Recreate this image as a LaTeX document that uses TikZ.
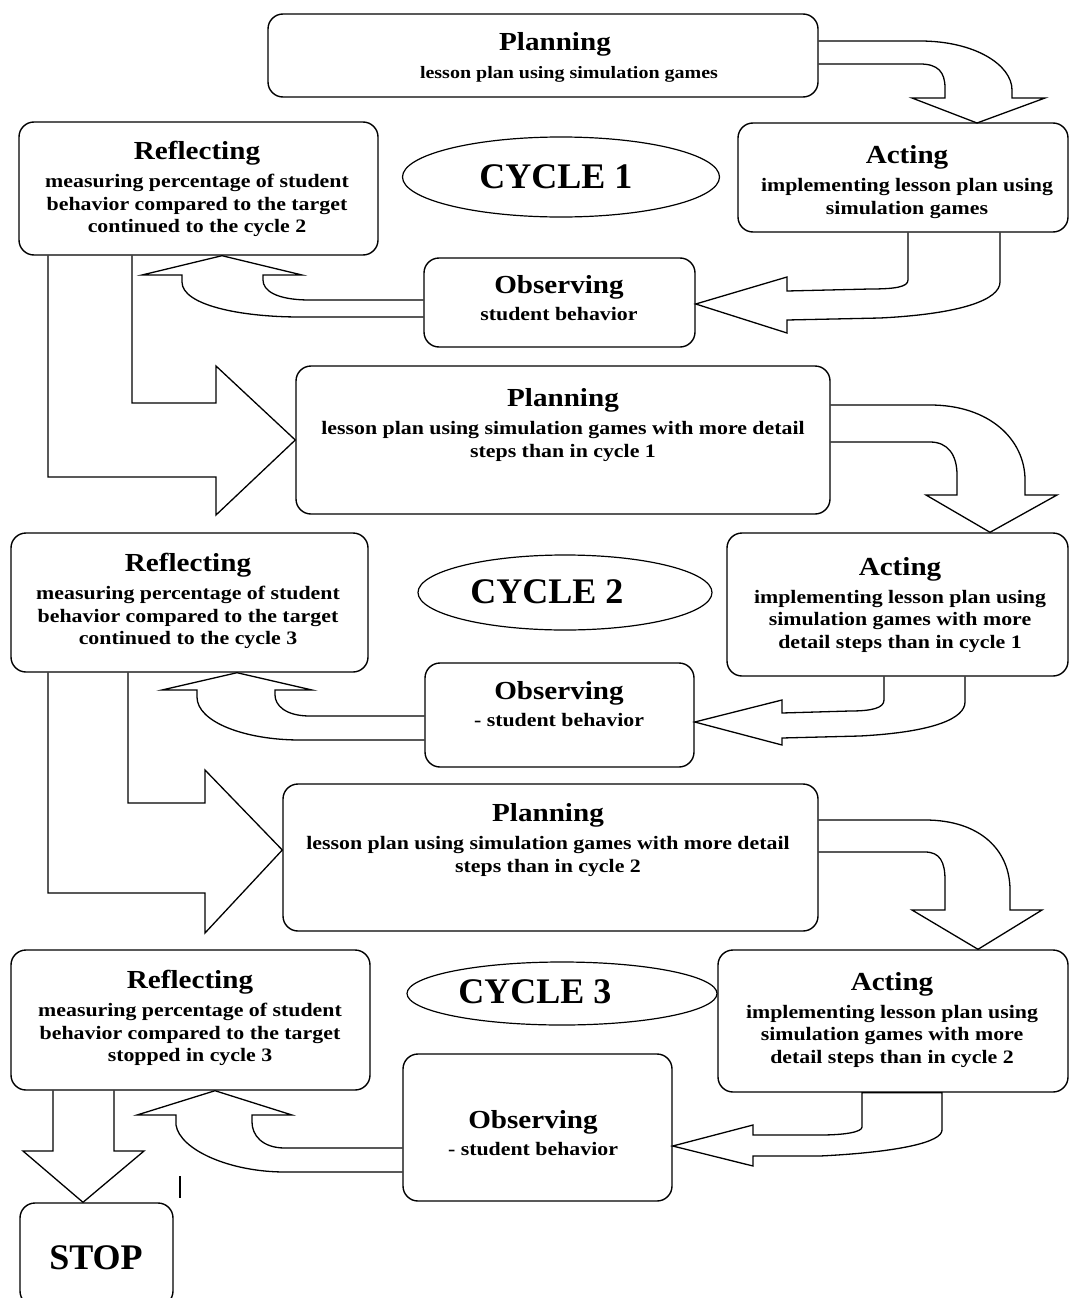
\documentclass[tikz,border=0pt]{standalone}
\usepackage{fontspec}
\setmainfont{Liberation Serif}
\newfontfamily\boxfont[FakeStretch=1.15]{Liberation Serif}
\newfontfamily\titlefont[FakeStretch=1.12]{Liberation Serif}
\usetikzlibrary{shapes.geometric}
\newcommand\ttl[1]{{\titlefont\bfseries\fontsize{26}{22.5}\selectfont #1}\\[5.3pt]}
\begin{document}
\begin{tikzpicture}[x=1pt,y=-1pt,
  box/.style={draw, rounded corners=15pt, line width=1.4pt, inner sep=0pt},
  oval/.style={draw, ellipse, line width=1.2pt, inner sep=0pt},
  txt/.style={align=center, font=\boxfont\bfseries\fontsize{19}{22.5}\selectfont, inner sep=0pt},
  big/.style={font=\bfseries\fontsize{36}{40}\selectfont, inner sep=0pt},
  blk/.style={draw, line width=1.3pt, line join=miter}]
\fill[white] (0,0) rectangle (1069,1298);
\useasboundingbox (0,0) rectangle (1069,1298);

% boxes
\node[box, minimum width=550, minimum height=83] (P1) at (543,55.5) {};
\node[box, minimum width=359, minimum height=133] (R1) at (198.5,188.5) {};
\node[box, minimum width=330, minimum height=109] (A1) at (903,177.5) {};
\node[box, minimum width=271, minimum height=89] (O1) at (559.5,302.5) {};
\node[box, minimum width=534, minimum height=148] (P2) at (563,440) {};
\node[box, minimum width=357, minimum height=139] (R2) at (189.5,602.5) {};
\node[box, minimum width=341, minimum height=143] (A2) at (897.5,604.5) {};
\node[box, minimum width=269, minimum height=104] (O2) at (559.5,715) {};
\node[box, minimum width=535, minimum height=147] (P3) at (550.5,857.5) {};
\node[box, minimum width=359, minimum height=140] (R3) at (190.5,1020) {};
\node[box, minimum width=350, minimum height=142] (A3) at (893,1021) {};
\node[box, minimum width=269, minimum height=147] (O3) at (537.5,1127.5) {};
\node[box, minimum width=153, minimum height=103] (S) at (96.5,1254.5) {};

% ellipses
\node[oval, minimum width=317, minimum height=80] (C1) at (561,177) {};
\node[oval, minimum width=294, minimum height=75] (C2) at (565,592.5) {};
\node[oval, minimum width=310, minimum height=63] (C3) at (562,993.5) {};
\node[big] (C1t) at (556,177) {CYCLE 1};
\node[big] (C2t) at (547,592) {CYCLE 2};
\node[big] (C3t) at (535,992) {CYCLE 3};
\node[big] (St) at (96,1258) {STOP};

% texts
\node[txt] (P1t) at (562,57.5) {\ttl{\hspace*{-14pt}Planning}{\fontsize{17.4}{22.5}\selectfont\hspace*{14pt}lesson plan using simulation games}};
\node[txt] (R1t) at (197,189) {\ttl{Reflecting}measuring percentage of student\\behavior compared to the target\\continued to the cycle 2};
\node[txt] (A1t) at (907,182) {\ttl{Acting}implementing lesson plan using\\simulation games};
\node[txt] (O1t) at (559,298) {\ttl{Observing}student behavior};
\node[txt] (P2t) at (563,425) {\ttl{Planning}lesson plan using simulation games with more detail\\steps than in cycle 1};
\node[txt] (R2t) at (188,601) {\ttl{Reflecting}measuring percentage of student\\behavior compared to the target\\continued to the cycle 3};
\node[txt] (A2t) at (900,605) {\ttl{Acting}implementing lesson plan using\\simulation games with more\\detail steps than in cycle 1};
\node[txt] (O2t) at (559,704) {\ttl{Observing}- student behavior};
\node[txt] (P3t) at (548,840) {\ttl{Planning}lesson plan using simulation games with more detail\\steps than in cycle 2};
\node[txt] (R3t) at (190,1018) {\ttl{Reflecting}measuring percentage of student\\behavior compared to the target\\stopped in cycle 3};
\node[txt] (A3t) at (892,1020) {\ttl{Acting}implementing lesson plan using\\simulation games with more\\detail steps than in cycle 2};
\node[txt] (O3t) at (533,1133) {\ttl{Observing}- student behavior};

% ---- cycle 1 block arrows
\draw[blk] (P1.east |- 0,41) -- (920,41) .. controls (975,41) and (1012,65) .. (1012,90) -- (1012,98)
  -- (1045,98) -- (977,123) -- (912,98) -- (945,98) -- (945,88)
  .. controls (945,72) and (938,64) .. (920,64) -- (P1.east |- 0,64);
\draw[blk] (A1.south -| 908,0) -- (908,280) .. controls (908,287) and (895,289) .. (870,289) -- (787,291)
  -- (787,277) -- (O1.east |- 0,304) -- (787,333) -- (787,320) -- (880,318)
  .. controls (960,314) and (1000,300) .. (1000,282) -- (A1.south -| 1000,0);
\draw[blk] (O1.west |- 0,300) -- (310,300) .. controls (275,300) and (263,290) .. (263,280) -- (263,275)
  -- (302,275) -- (R1.south -| 222,0) -- (142,275) -- (182,275) -- (182,282)
  .. controls (182,305) and (240,317) .. (300,317) -- (O1.west |- 0,317);
\draw[blk] (R1.south -| 132,0) -- (132,403) -- (216,403) -- (216,366) -- (P2.west |- 0,440)
  -- (216,515) -- (216,477) -- (48,477) -- (R1.south -| 48,0);

% ---- cycle 2 block arrows
\draw[blk] (P2.east |- 0,405) -- (930,405) .. controls (990,405) and (1025,440) .. (1025,480) -- (1025,495)
  -- (1057,495) -- (A2.north -| 990,0) -- (926,495) -- (957,495) -- (957,475)
  .. controls (957,455) and (948,442) .. (930,442) -- (P2.east |- 0,442);
\draw[blk] (A2.south -| 884,0) -- (884,700) .. controls (884,708) and (872,711) .. (850,711) -- (782,713)
  -- (782,700) -- (O2.east |- 0,722) -- (782,745) -- (782,738) -- (860,736)
  .. controls (935,732) and (965,718) .. (965,702) -- (A2.south -| 965,0);
\draw[blk] (O2.west |- 0,716) -- (310,716) .. controls (285,716) and (275,705) .. (275,695) -- (275,690)
  -- (312,690) -- (R2.south -| 237,0) -- (162,690) -- (197,690) -- (197,697)
  .. controls (197,722) and (245,740) .. (300,740) -- (O2.west |- 0,740);
\draw[blk] (R2.south -| 128,0) -- (128,803) -- (205,803) -- (205,770) -- (P3.west |- 0,850)
  -- (205,933) -- (205,893) -- (48,893) -- (R2.south -| 48,0);

% ---- cycle 3 block arrows
\draw[blk] (P3.east |- 0,820) -- (925,820) .. controls (980,820) and (1010,850) .. (1010,890) -- (1010,910)
  -- (1042,910) -- (A3.north -| 978,0) -- (912,910) -- (945,910) -- (945,880)
  .. controls (945,862) and (940,852) .. (925,852) -- (P3.east |- 0,852);
\draw[blk] (A3.south -| 862,0) -- (862,1127) .. controls (862,1132) and (845,1135) .. (820,1135) -- (753,1135)
  -- (753,1125) -- (O3.east |- 0,1146) -- (753,1166) -- (753,1156) -- (820,1156)
  .. controls (900,1152) and (942,1142) .. (942,1130) -- (A3.south -| 942,0) -- cycle;
\draw[blk] (O3.west |- 0,1148) -- (285,1148) .. controls (262,1148) and (252,1135) .. (252,1122) -- (252,1115)
  -- (292,1115) -- (R3.south -| 215,0) -- (137,1115) -- (176,1115) -- (176,1125)
  .. controls (180,1150) and (230,1172) .. (285,1172) -- (O3.west |- 0,1172);
\draw[blk] (R3.south -| 53,0) -- (53,1151) -- (23,1151) -- (S.north -| 83,0) -- (144,1151) -- (114,1151)
  -- (R3.south -| 114,0);

\coordinate (m1) at (180,1176);
\coordinate (m2) at (180,1198);
\draw[line width=1.2pt] (m1) -- (m2);
\end{tikzpicture}
\end{document}
